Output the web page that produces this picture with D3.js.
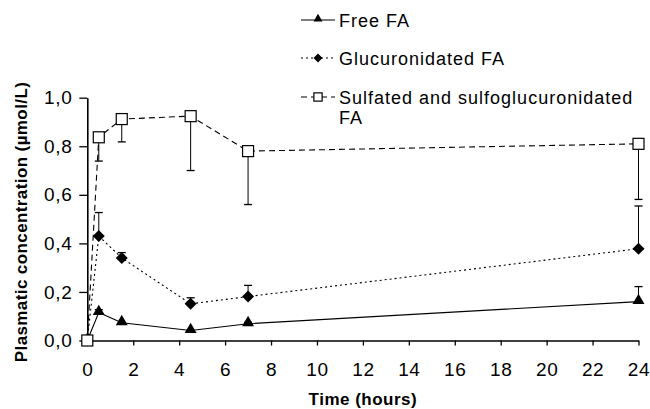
<!DOCTYPE html>
<html>
<head>
<meta charset="utf-8">
<script src="https://cdn.jsdelivr.net/npm/d3@7"></script>
<style>
  body { margin: 0; background: #fff; }
  text { font-family: Arial, "Liberation Sans", sans-serif; fill: #000; }
</style>
</head>
<body>
<div id="chart"></div>
<script>
// time points (hours)
var times = [0, 0.5, 1.5, 4.5, 7, 24];

// mean plasma concentrations (umol/L)
var freeFA = [0, 0.115, 0.073, 0.041, 0.069, 0.16];
var glucFA = [0, 0.43, 0.34, 0.151, 0.181, 0.378];
var sulfFA = [0, 0.837, 0.912, 0.924, 0.78, 0.81];

// standard deviations (drawn as one-sided error bars)
var freeSD = [0, 0.012, 0, 0, 0.006, 0.062];
var glucSD = [0, 0.097, 0.022, 0.025, 0.046, 0.176];
var sulfSD = [0, 0.098, 0.094, 0.224, 0.22, 0.229];

var xTicks = [0, 2, 4, 6, 8, 10, 12, 14, 16, 18, 20, 22, 24];
var yTicks = [0, 0.2, 0.4, 0.6, 0.8, 1.0];

var W = 650, H = 409;
var margin = {top: 97.7, right: 11.5, bottom: 68.5, left: 87.3};

var svg = d3.select('#chart').append('svg')
  .attr('width', W)
  .attr('height', H);

var x = d3.scaleLinear().domain([0, 24]).range([margin.left, W - margin.right]);
var y = d3.scaleLinear().domain([0, 1]).range([H - margin.bottom, margin.top]);

// axes
var xAxis = d3.axisBottom(x).tickValues(xTicks).tickSize(5).tickSizeOuter(0)
  .tickPadding(17).tickFormat(d3.format('d'));
var yAxis = d3.axisLeft(y).tickValues(yTicks).tickSize(8).tickSizeOuter(0)
  .tickPadding(7).tickFormat(function(d){ return d3.format('.1f')(d).replace('.', ','); });

var gx = svg.append('g').attr('transform', 'translate(0,' + y(0) + ')').call(xAxis);
var gy = svg.append('g').attr('transform', 'translate(' + x(0) + ',0)').call(yAxis);
[gx, gy].forEach(function(g){
  g.select('.domain').attr('stroke', '#000').attr('stroke-width', 1.6);
  g.selectAll('.tick line').attr('stroke', '#000').attr('stroke-width', 1.3);
  g.selectAll('.tick text').attr('font-size', 19).attr('letter-spacing', 0.6)
    .attr('font-family', 'Arial, "Liberation Sans", sans-serif');
});

// axis titles
svg.append('text')
  .attr('x', x(12)).attr('y', 405)
  .attr('text-anchor', 'middle')
  .attr('font-size', 17).attr('font-weight', 'bold').attr('letter-spacing', 0.5)
  .text('Time (hours)');

svg.append('text')
  .attr('transform', 'translate(27,' + 222 + ') rotate(-90)')
  .attr('text-anchor', 'middle')
  .attr('font-size', 17).attr('font-weight', 'bold').attr('letter-spacing', 0.4)
  .text('Plasmatic concentration (\u00b5mol/L)');

var series = [
  {name: 'Free FA', values: freeFA, sd: freeSD, dir: 1, dash: null, marker: 'triangle'},
  {name: 'Glucuronidated FA', values: glucFA, sd: glucSD, dir: 1, dash: '2,3', marker: 'diamond'},
  {name: 'Sulfated and sulfoglucuronidated', name2: 'FA', values: sulfFA, sd: sulfSD, dir: -1, dash: '6,4', marker: 'square'}
];

function drawMarker(g, type, cx, cy, s) {
  s = s || 1;
  if (type === 'triangle') {
    g.append('path')
      .attr('d', d3.symbol().type(d3.symbolTriangle).size(62 * s * s)())
      .attr('transform', 'translate(' + cx + ',' + (cy - 1) + ')')
      .attr('fill', '#000');
  } else if (type === 'diamond') {
    var r = 6 * s;
    g.append('path')
      .attr('d', 'M0,' + (-r) + 'L' + r + ',0L0,' + r + 'L' + (-r) + ',0Z')
      .attr('transform', 'translate(' + cx + ',' + cy + ')')
      .attr('fill', '#000');
  } else {
    var h = 5.5 * s;
    g.append('rect')
      .attr('x', cx - h).attr('y', cy - h)
      .attr('width', 2 * h).attr('height', 2 * h)
      .attr('fill', '#fff').attr('stroke', '#000').attr('stroke-width', 1.2);
  }
}

var line = d3.line()
  .x(function(d){ return x(d[0]); })
  .y(function(d){ return y(d[1]); });

// error bars first
series.forEach(function(s){
  var g = svg.append('g');
  times.forEach(function(t, i){
    if (!s.sd[i]) return;
    var end = s.values[i] + s.dir * s.sd[i];
    g.append('line')
      .attr('x1', x(t)).attr('x2', x(t))
      .attr('y1', y(s.values[i])).attr('y2', y(end))
      .attr('stroke', '#000').attr('stroke-width', 1);
    g.append('line')
      .attr('x1', x(t) - 4).attr('x2', x(t) + 4)
      .attr('y1', y(end)).attr('y2', y(end))
      .attr('stroke', '#000').attr('stroke-width', 1.3);
  });
});

// lines and markers
series.forEach(function(s){
  var pts = times.map(function(t, i){ return [t, s.values[i]]; });
  svg.append('path')
    .datum(pts)
    .attr('d', line)
    .attr('fill', 'none')
    .attr('stroke', '#000')
    .attr('stroke-width', 1.1)
    .attr('stroke-dasharray', s.dash);
});
[0, 1, 2].forEach(function(k){
  var s = series[k];
  var g = svg.append('g');
  times.forEach(function(t, i){ drawMarker(g, s.marker, x(t), y(s.values[i])); });
});

// legend
var legY = [20, 58, 97];
series.forEach(function(s, k){
  var g = svg.append('g');
  g.append('line')
    .attr('x1', 301).attr('x2', 335)
    .attr('y1', legY[k]).attr('y2', legY[k])
    .attr('stroke', '#000').attr('stroke-width', 1.1)
    .attr('stroke-dasharray', s.dash);
  drawMarker(g, s.marker, 318, legY[k], 0.75);
  g.append('text')
    .attr('x', 339).attr('y', legY[k] + 6.5)
    .attr('font-size', 18).attr('letter-spacing', 1)
    .text(s.name);
  if (s.name2) {
    g.append('text')
      .attr('x', 339).attr('y', legY[k] + 26.5)
      .attr('font-size', 18).attr('letter-spacing', 1)
      .text(s.name2);
  }
});
</script>
</body>
</html>
